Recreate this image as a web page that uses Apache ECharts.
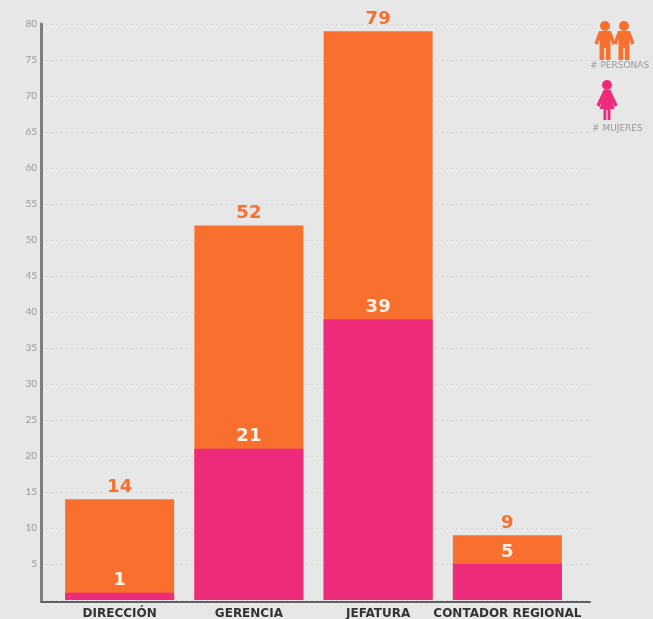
<!DOCTYPE html>
<html><head><meta charset="utf-8">
<style>html,body{margin:0;padding:0;background:#e7e7e7;overflow:hidden}#c{width:653px;height:619px}</style>
<script src="https://cdn.jsdelivr.net/npm/echarts@6/dist/echarts.min.js"></script>
</head><body><div id="c"></div>
<script>
const categories = ['DIRECCIÓN', 'GERENCIA', 'JEFATURA', 'CONTADOR REGIONAL'];
const personas = [14, 52, 79, 9];
const mujeres = [1, 21, 39, 5];
const legendPersonas = '# PERSONAS';
const legendMujeres = '# MUJERES';
const ORANGE = '#f9702e', PINK = '#ee2a7b';
const manBody = [[4,10],[16,10],[20.500,22],[17.500,24],[15.500,18],[15.500,39],[10.800,39],[10.800,27],[9.200,27],[9.200,39],[4.500,39],[4.500,18],[2.500,24],[-0.500,22]];
const womanBody = [[6.500,10],[13.500,10],[20.500,25],[17.500,27],[15,22],[17.500,29],[13.500,29],[13.500,40],[10.600,40],[10.600,30],[9.400,30],[9.400,40],[6.500,40],[6.500,29],[2.500,29],[5,22],[2.500,27],[-0.500,25]];
const chart = echarts.init(document.getElementById('c'), null, {renderer: 'canvas'});
const numFont = {fontFamily: 'DejaVu Sans', fontWeight: 'bold', fontSize: 18};
const person = (body, x, y, c) => ({type: 'group', x: x, y: y, silent: true, children: [
  {type: 'circle', shape: {cx: 10, cy: 5, r: 5}, style: {fill: c}},
  {type: 'polygon', shape: {points: body}, style: {fill: c}}
]});
chart.setOption({
  animation: false,
  backgroundColor: '#e7e7e7',
  grid: [
    {left: 55, top: 24, width: 517, height: 576, outerBoundsMode: 'none'},
    {left: 41, top: 24, width: 549, height: 576, outerBoundsMode: 'none'}
  ],
  xAxis: [
    {type: 'category', gridIndex: 0, data: categories,
     axisLine: {show: false}, axisTick: {show: false},
     axisLabel: {interval: 0, margin: 8, color: '#333', fontFamily: 'DejaVu Sans', fontWeight: 'bold', fontSize: 12}},
    {type: 'value', gridIndex: 1, min: 0, max: 1, offset: 2,
     axisLine: {show: true, onZero: false, lineStyle: {color: '#5f6163', width: 2}},
     axisTick: {show: false}, axisLabel: {show: false}, splitLine: {show: false}}
  ],
  yAxis: [
    {type: 'value', gridIndex: 0, min: 0, max: 80, show: false},
    {type: 'value', gridIndex: 1, min: 0, max: 80, interval: 5,
     axisLine: {show: true, onZero: false, lineStyle: {color: '#7d7d7d', width: 3}},
     axisTick: {show: false},
     axisLabel: {margin: 4, color: '#999', fontFamily: 'Lato', fontSize: 10, formatter: v => v === 0 ? '' : v},
     splitLine: {show: true, lineStyle: {color: '#d9d9d9', type: [2, 3], width: 1}}}
  ],
  series: [
    {name: legendPersonas, type: 'bar', xAxisIndex: 0, yAxisIndex: 0, data: personas,
     barWidth: 109, barGap: '-100%', z: 2, itemStyle: {color: ORANGE},
     label: {show: true, position: 'top', distance: 3, color: ORANGE, ...numFont}},
    {name: legendMujeres, type: 'bar', xAxisIndex: 0, yAxisIndex: 0, data: mujeres,
     barWidth: 109, barGap: '-100%', z: 3, itemStyle: {color: PINK},
     label: {show: true, position: 'top', distance: 3, color: '#fff3e6', ...numFont}}
  ],
  graphic: [
    person(manBody, 595, 21, ORANGE),
    person(manBody, 614, 21, ORANGE),
    person(womanBody, 597, 80, PINK),
    {type: 'text', x: 590, y: 61, silent: true, style: {text: legendPersonas, fill: '#9a9a9e', font: '9px DejaVu Sans'}},
    {type: 'text', x: 592, y: 124, silent: true, style: {text: legendMujeres, fill: '#9a9a9e', font: '9px DejaVu Sans'}}
  ]
});
</script></body></html>
